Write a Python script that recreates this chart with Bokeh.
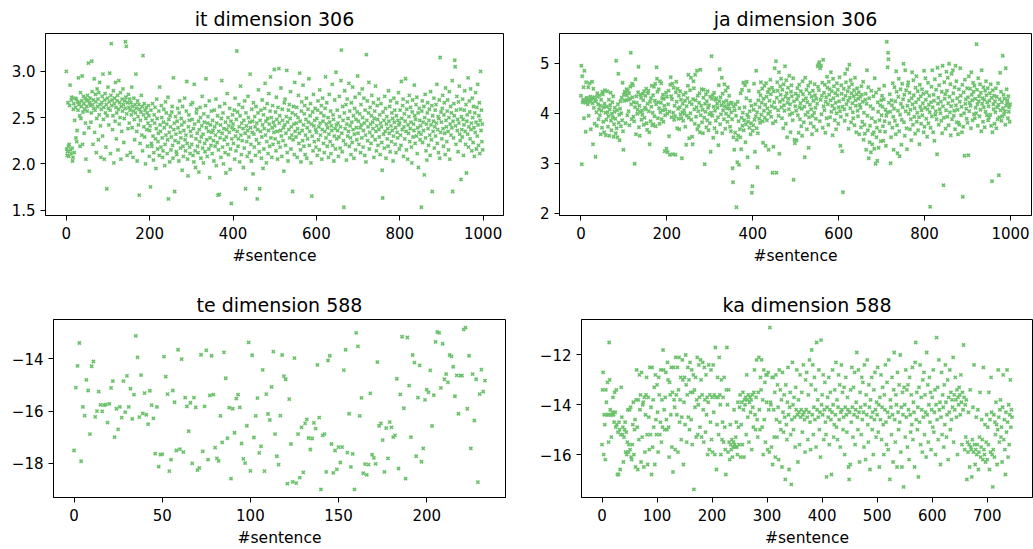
from bokeh.plotting import figure
from bokeh.layouts import column, row
from bokeh.models import Range1d, FixedTicker, CustomJSTickFormatter
from bokeh.embed import file_html
from bokeh.resources import INLINE

# ---------------- data (values read/estimated from the reference) ----------------
it_values = [
3.00,2.16,2.09,2.13,2.66,2.19,2.08,2.21,2.63,2.85,2.15,2.11,2.69,2.72,2.17,2.03,2.07,2.59,2.65,2.12,2.47,2.71,2.61,2.28,2.70,2.24,2.36,2.67,2.58,2.93,2.64,2.66,2.52,2.19,2.77,2.49,2.62,2.68,2.95,2.21,2.56,2.73,2.65,2.33,2.59,2.71,2.44,2.05,2.69,2.62,
2.57,2.74,2.68,3.09,2.39,1.92,2.66,2.71,2.63,2.45,2.55,3.11,2.78,2.64,2.21,2.69,2.60,2.92,2.34,2.58,2.75,2.67,2.12,2.49,2.81,2.62,2.70,2.26,2.77,2.53,2.88,2.64,2.41,2.07,2.59,2.66,2.73,2.30,2.97,2.48,2.61,2.05,2.69,2.76,2.55,2.18,2.64,1.73,2.52,2.71,
2.83,2.60,2.42,2.67,2.98,2.58,2.11,2.74,3.30,2.63,2.69,2.37,2.52,2.79,2.01,2.65,2.71,2.46,2.88,2.61,2.27,2.55,2.68,2.74,2.15,2.59,2.90,2.43,2.66,2.50,2.77,2.05,2.62,2.35,2.70,2.57,2.81,2.64,2.23,2.49,2.68,2.60,3.32,2.72,3.27,2.54,2.09,2.66,2.38,2.75,
2.61,2.44,2.70,2.58,2.12,2.66,2.53,2.83,2.39,2.62,2.07,2.57,2.71,2.48,2.26,2.64,2.55,2.97,2.60,2.35,2.03,2.68,2.51,2.42,2.64,1.66,2.59,2.22,2.47,2.56,2.74,2.31,2.62,2.14,3.17,2.53,2.40,2.65,2.29,2.58,2.00,2.49,2.61,2.37,2.55,2.19,2.44,2.63,2.52,2.08,
2.36,2.41,1.75,2.58,2.22,2.19,2.47,2.65,2.30,2.04,2.12,2.53,2.44,2.61,2.27,1.95,2.38,2.70,2.49,2.16,2.24,2.33,2.57,2.09,2.83,2.42,2.35,2.18,2.63,2.50,2.28,2.07,2.14,2.45,2.59,2.39,1.98,2.21,2.67,2.31,2.55,2.43,2.11,2.26,2.72,1.62,2.48,2.34,2.02,2.52,
2.40,2.15,2.29,2.56,2.62,2.20,2.06,2.93,2.37,2.44,1.70,2.25,2.51,2.32,2.13,2.10,2.46,2.60,2.39,2.23,2.03,2.55,2.68,2.34,2.17,2.28,2.49,2.42,1.93,2.62,2.19,2.08,2.36,2.45,2.71,2.26,2.14,2.31,2.57,2.89,2.22,2.05,1.87,2.40,2.53,2.47,2.18,2.11,2.35,2.64,
2.30,2.21,2.48,2.66,2.09,2.38,2.02,2.86,2.43,2.14,1.96,2.27,2.55,2.59,2.33,2.19,2.12,2.46,1.91,2.37,2.24,2.61,2.50,2.06,2.29,2.41,2.73,2.17,2.32,2.01,2.54,2.45,2.22,2.13,2.63,2.92,2.39,2.26,2.08,2.44,2.51,2.35,2.16,2.68,1.85,2.28,2.42,2.20,2.57,2.34,
2.11,2.47,2.36,2.25,2.03,2.58,2.40,2.19,2.31,2.70,1.98,2.44,2.23,2.52,1.66,2.15,2.35,1.67,2.62,2.28,2.42,2.07,2.49,2.90,2.33,2.18,2.55,2.00,2.38,2.26,2.65,2.12,2.45,1.90,2.29,2.37,2.76,2.21,2.50,2.10,2.41,2.34,2.60,1.94,2.16,2.46,1.57,2.27,2.39,2.53,
2.43,2.22,2.37,2.58,2.05,2.71,2.30,2.14,2.48,3.22,2.35,2.56,2.19,2.27,2.64,2.40,2.02,2.52,2.84,2.31,2.10,2.44,2.25,2.61,2.38,1.96,2.47,2.17,2.68,2.33,1.73,2.55,2.41,2.24,2.08,2.36,2.73,2.50,2.29,2.12,2.45,2.97,2.39,2.21,2.03,2.59,2.34,2.46,1.89,2.66,
2.32,2.18,2.51,2.40,2.09,2.62,2.26,2.44,1.62,2.37,2.55,2.80,2.22,2.13,1.73,2.47,2.35,2.58,2.06,2.29,2.69,2.42,1.95,2.53,2.16,2.38,2.60,2.87,2.31,2.46,2.01,2.24,2.65,2.49,2.11,2.36,2.76,2.43,2.19,2.57,2.94,2.28,2.50,2.07,2.39,2.63,2.21,2.45,2.34,3.02,
2.41,2.27,2.56,2.14,2.72,2.48,2.35,2.05,2.61,2.23,3.03,2.44,2.52,2.18,2.36,2.82,2.30,2.08,2.59,2.47,2.25,2.39,1.92,2.66,2.42,2.70,2.20,2.33,2.51,3.01,2.12,2.45,2.03,2.58,2.37,2.64,2.28,2.49,2.78,2.16,2.40,2.31,2.55,1.70,2.26,2.62,2.43,2.10,2.88,2.35,
2.53,2.29,2.44,2.61,2.07,2.38,2.50,2.74,2.22,2.33,2.98,2.46,2.15,2.02,2.57,2.67,2.36,2.25,2.85,2.42,2.19,2.54,2.63,2.10,2.31,2.48,2.71,2.06,2.39,2.27,2.59,2.45,2.92,2.20,2.35,2.52,2.65,2.01,2.43,1.65,2.30,2.56,2.14,2.75,2.41,2.24,2.47,2.60,2.37,2.18,
2.34,2.49,2.09,2.58,2.68,2.26,2.40,2.15,2.80,2.44,2.31,2.55,2.63,2.05,2.37,2.71,2.46,2.22,2.52,2.12,2.35,2.60,2.94,2.28,2.43,2.66,2.19,2.39,2.50,2.07,2.32,2.75,2.45,2.24,2.57,2.11,2.41,2.36,2.86,2.20,2.53,2.48,2.03,2.30,2.69,2.38,2.16,2.99,2.42,2.27,
2.58,2.36,2.44,2.08,2.29,2.73,2.51,2.17,2.40,2.90,3.23,2.33,2.13,2.62,2.47,2.25,1.53,2.55,2.79,2.38,2.21,2.64,2.04,2.43,2.70,2.30,2.49,2.35,2.87,2.19,2.57,2.41,2.28,2.10,2.66,2.45,2.23,2.83,2.37,2.52,2.06,2.32,2.60,2.72,2.15,2.48,2.39,2.26,2.56,2.95,
2.33,2.46,2.21,2.76,2.54,2.39,2.12,2.64,2.42,2.28,2.81,2.50,2.18,2.36,2.71,2.44,2.09,2.58,2.31,2.02,3.18,2.47,2.68,2.25,2.40,2.55,2.88,2.16,2.34,2.61,2.43,2.22,2.52,2.74,2.30,2.45,2.38,2.66,2.07,2.49,2.57,2.26,2.84,2.35,2.14,2.41,2.63,2.48,2.20,2.70,
2.37,2.29,2.53,2.10,2.44,2.65,2.40,2.23,1.93,1.63,2.56,2.32,2.47,2.17,2.73,2.35,2.60,2.06,2.43,2.51,2.27,2.38,2.19,2.79,2.46,2.33,2.62,2.13,2.68,2.41,2.24,2.55,2.36,2.49,2.03,2.30,2.71,2.45,2.58,2.21,2.39,2.12,2.52,2.66,2.34,2.28,2.47,2.77,2.42,2.16,
2.44,2.58,2.31,2.20,2.89,2.49,2.37,2.63,2.70,2.08,2.40,2.54,2.27,2.46,2.92,2.35,2.15,2.59,2.67,2.05,2.42,2.33,2.51,2.74,2.24,2.38,2.61,2.45,2.18,2.01,2.56,2.69,2.29,2.43,2.36,2.85,2.52,2.22,2.48,2.64,2.30,2.72,2.11,2.39,2.55,1.96,2.34,2.60,2.47,2.26,
2.41,2.32,1.53,2.57,2.68,2.23,2.45,2.36,2.62,1.88,2.50,2.75,2.28,2.14,2.43,2.04,2.55,2.66,2.38,2.20,2.47,2.59,2.31,2.09,2.78,2.42,2.26,2.63,1.70,2.52,2.35,2.46,2.71,2.17,2.40,2.58,2.30,2.64,2.44,2.86,2.22,2.37,2.51,2.12,2.49,2.69,2.06,3.15,2.34,2.56,
2.45,2.27,2.60,2.74,2.38,2.19,2.53,2.66,2.33,2.10,2.82,2.47,2.40,2.24,2.57,2.69,2.35,2.15,2.50,2.78,2.05,2.43,2.62,2.31,2.55,2.39,2.90,1.70,2.46,2.28,2.65,2.52,3.12,3.05,2.41,2.21,2.58,2.73,2.36,2.48,2.13,2.67,2.44,2.84,2.32,2.25,2.59,1.83,2.51,2.37,
2.29,2.70,2.48,2.09,2.42,2.58,2.79,2.35,2.21,2.64,1.90,2.46,2.53,2.32,2.93,2.18,2.40,2.68,2.56,2.27,2.81,2.37,2.44,2.14,2.71,2.50,2.23,2.62,2.39,2.08,2.55,2.34,2.77,2.45,2.16,2.61,2.30,2.86,2.42,2.20,2.52,2.66,2.11,2.47,3.00,2.36,2.58,2.24,2.43,2.15,
]

ja_values = [
4.35,4.95,2.98,4.74,4.22,4.27,4.52,3.90,4.85,4.25,4.21,3.63,4.62,4.29,4.31,4.24,4.18,4.52,3.95,4.26,4.60,4.23,4.33,3.68,4.28,4.30,4.63,4.20,3.38,4.49,4.11,4.32,3.79,4.26,3.13,4.24,4.02,3.75,4.40,4.33,4.18,3.88,4.08,4.36,3.96,4.15,3.58,4.27,4.05,3.71,
4.43,4.38,3.83,4.12,3.62,4.19,4.46,4.01,3.56,3.87,4.13,4.44,4.02,3.73,3.94,4.27,3.55,4.08,4.16,4.41,3.85,3.66,3.99,4.22,3.92,4.34,3.53,3.78,4.03,4.11,3.89,3.60,5.05,3.70,4.06,3.52,4.18,4.79,3.81,3.97,3.46,4.09,4.24,3.74,4.00,4.31,3.86,4.61,3.64,3.27,
4.37,4.25,4.43,4.41,3.80,4.26,4.48,4.36,3.96,4.45,4.27,4.04,4.40,3.76,4.29,4.53,5.21,4.18,3.88,4.59,4.32,4.56,3.93,4.22,3.84,2.99,4.12,4.68,3.58,4.34,4.21,3.99,4.07,4.42,4.93,3.72,4.15,3.55,4.37,4.02,4.31,3.87,4.05,3.97,4.39,4.26,3.77,4.44,3.91,4.11,
4.35,4.08,4.49,3.80,3.67,4.19,4.40,4.45,4.04,3.62,3.38,4.23,3.84,4.30,4.13,4.55,3.76,4.01,4.36,3.78,4.53,3.94,4.25,4.59,3.74,4.18,4.92,4.69,4.43,3.90,4.22,4.48,4.10,3.79,4.64,4.02,4.21,4.60,3.88,4.30,4.06,4.37,3.83,4.29,4.15,3.24,3.96,4.07,4.41,3.29,
4.33,3.99,3.22,4.18,4.45,3.54,4.03,3.17,4.57,4.72,4.34,3.92,4.28,4.59,3.18,4.01,4.51,3.87,4.15,3.94,3.17,4.42,4.63,4.23,3.70,4.49,4.09,3.89,4.35,3.68,4.12,4.44,3.98,4.27,3.90,3.10,4.02,4.19,3.85,4.37,4.06,3.99,4.25,3.73,4.41,3.37,4.14,3.95,4.30,4.55,
4.77,3.91,3.50,4.22,4.46,4.00,4.71,3.87,4.18,3.53,3.38,4.28,4.64,4.50,4.08,3.79,4.77,4.26,3.93,4.12,4.85,3.68,4.35,4.04,3.75,4.21,4.40,3.62,4.87,3.96,4.15,4.48,3.82,4.07,3.60,4.31,4.47,3.91,2.98,4.19,4.03,4.38,3.72,4.24,3.86,4.44,4.11,3.66,4.16,3.98,
3.80,4.33,3.23,4.01,5.14,4.29,3.95,4.36,3.51,4.13,4.41,3.70,4.05,4.27,3.85,4.30,3.62,4.19,4.11,3.92,3.36,4.56,4.24,4.88,3.78,4.32,3.98,4.16,4.71,3.60,4.39,4.06,4.22,3.88,4.58,4.14,3.69,4.45,3.99,4.25,4.10,3.83,4.52,4.17,3.94,4.35,4.09,3.73,4.20,3.64,
4.02,4.21,3.88,2.90,2.62,3.52,4.14,3.27,4.06,3.61,4.18,3.95,2.12,3.47,3.02,4.23,3.55,3.84,2.97,4.10,3.68,3.52,4.40,3.28,3.91,4.47,3.75,4.01,4.61,3.66,3.86,4.12,4.56,3.42,3.78,4.30,4.63,3.97,3.12,3.83,3.92,4.45,3.71,4.04,4.25,3.58,3.80,4.15,2.41,2.54,
3.65,3.76,4.07,4.59,3.87,3.23,4.18,3.94,4.85,3.70,4.02,2.92,3.60,4.26,4.43,3.89,4.12,3.81,4.36,4.62,3.97,4.21,4.49,3.84,3.41,4.29,4.05,4.55,3.91,4.17,3.35,4.60,4.33,3.86,4.10,4.42,3.99,3.27,4.48,4.25,4.03,4.67,4.38,3.93,4.14,4.51,2.81,3.80,3.33,4.44,
4.22,4.90,4.11,3.84,5.04,2.81,4.31,4.62,4.45,4.06,3.95,4.82,3.19,4.23,4.54,4.37,4.69,4.12,3.90,4.47,4.27,3.70,4.58,4.16,4.05,4.94,4.33,3.79,4.66,4.40,3.52,4.21,4.51,4.29,4.08,4.75,3.97,4.18,3.62,4.43,4.56,4.34,4.00,3.86,4.70,2.67,4.24,3.47,3.40,4.14,
4.39,4.05,3.46,4.28,4.50,3.96,4.35,3.61,4.57,4.12,3.88,4.20,4.44,3.74,4.09,3.55,4.64,4.38,4.26,3.82,4.13,3.12,4.71,3.97,4.30,4.47,3.68,4.22,4.02,4.55,3.31,3.92,4.40,4.17,4.62,3.80,4.08,4.33,3.58,3.95,4.45,4.25,3.73,4.01,4.58,4.36,4.11,3.89,4.29,3.66,
4.19,4.94,4.53,4.98,4.46,5.02,3.84,4.90,4.27,4.95,3.98,4.35,4.61,3.71,5.07,4.14,4.41,4.06,4.57,3.61,4.23,4.32,3.90,4.73,4.51,4.18,3.77,4.63,4.37,4.48,3.92,4.26,4.82,4.03,4.44,4.15,3.56,4.69,4.30,4.54,4.09,3.86,4.40,4.21,3.68,4.00,4.60,4.36,4.47,3.79,
4.12,4.24,4.72,4.04,3.35,3.93,4.56,4.39,3.24,4.13,2.42,4.28,4.49,4.08,3.85,4.79,4.35,4.62,4.18,3.97,4.88,4.44,4.25,3.69,4.52,4.97,4.31,4.10,4.66,3.82,4.40,4.58,4.20,4.02,3.90,4.34,4.46,3.76,4.71,4.26,4.15,3.62,4.38,4.50,4.05,3.94,4.29,4.42,3.58,4.17,
4.33,4.11,3.72,4.54,4.37,3.83,4.23,4.63,3.47,4.01,3.77,3.59,4.27,4.39,3.27,4.19,4.86,3.95,3.66,4.52,3.10,4.30,3.42,3.75,4.14,3.22,4.45,3.90,3.38,3.58,4.09,4.34,3.62,3.29,4.70,3.83,2.99,4.41,3.52,3.71,3.05,4.22,4.03,3.31,4.48,3.86,3.64,4.16,3.44,4.26,
3.96,4.35,4.13,3.74,3.45,4.28,4.55,3.84,3.63,4.07,3.35,3.95,5.43,4.02,4.92,5.21,5.08,4.21,3.80,4.38,4.03,3.00,3.52,4.26,4.16,3.71,4.60,3.93,3.27,4.09,4.52,3.85,4.24,3.58,4.84,4.43,3.76,3.20,4.05,4.33,4.69,3.64,3.14,3.97,4.48,4.19,3.37,3.87,4.59,4.12,
4.28,4.99,3.82,4.37,3.55,4.86,4.04,4.46,3.70,3.28,4.15,4.55,4.62,3.99,4.25,4.41,3.68,4.07,3.88,3.46,4.30,4.82,4.18,3.77,4.66,4.36,3.93,4.10,3.59,4.51,4.22,4.74,3.83,4.01,4.44,3.66,4.28,3.92,3.38,4.57,4.13,4.34,3.79,4.06,4.48,3.96,4.20,4.39,3.62,4.85,
3.73,4.11,4.70,4.27,3.89,4.42,3.53,4.08,4.61,3.80,4.17,4.35,4.02,2.13,3.71,4.22,4.53,3.94,4.86,4.12,3.62,4.37,4.25,3.45,4.68,3.97,4.04,4.47,3.88,3.18,4.91,4.19,4.31,3.77,4.56,4.08,4.76,4.00,4.23,3.85,4.43,3.60,4.95,4.14,2.56,3.91,4.62,4.29,4.38,3.69,
4.06,4.83,4.45,3.93,4.71,4.20,3.76,4.99,4.33,4.02,4.58,3.56,4.14,4.79,3.88,4.25,4.86,4.40,3.95,4.05,4.52,3.68,4.95,4.16,4.64,3.82,4.30,4.07,3.58,3.81,4.48,3.77,4.23,4.90,4.35,3.96,4.13,3.62,4.57,2.33,3.73,4.42,4.00,3.15,4.67,4.19,4.28,4.09,3.89,4.50,
3.81,4.32,3.16,4.74,4.04,4.21,4.49,4.15,3.70,4.82,4.37,4.26,3.86,4.61,4.43,3.98,4.55,3.90,4.29,4.11,4.00,5.38,4.47,4.18,3.75,4.70,4.24,4.34,3.94,4.58,4.07,4.41,3.64,4.86,4.19,4.30,3.83,4.52,4.12,4.27,3.72,4.45,4.03,4.64,4.36,3.96,4.22,4.50,3.86,4.14,
3.92,4.25,4.40,3.97,4.58,3.75,4.31,2.64,3.62,4.46,4.18,4.08,4.35,3.79,4.24,4.02,4.50,3.70,4.33,4.12,3.88,4.60,4.17,2.76,3.92,4.28,4.81,4.06,4.43,3.85,4.22,3.94,5.15,4.10,4.37,3.98,4.29,4.04,3.77,4.90,4.15,4.48,4.20,4.26,3.90,4.34,4.03,4.12,3.83,4.18,
]

te_values = [
-17.51,-15.10,-14.27,-13.39,-17.92,-15.84,-16.17,-14.80,-15.21,-16.88,-14.28,-14.10,-16.22,-16.00,-15.25,-15.76,-16.01,-15.77,-15.75,-16.44,
-15.72,-15.11,-14.85,-17.00,-15.91,-16.70,-15.84,-16.25,-14.85,-16.04,-14.65,-15.84,-15.14,-16.30,-15.37,-13.12,-13.94,-16.23,-14.62,-16.09,
-15.31,-16.14,-16.50,-15.22,-15.77,-16.28,-17.63,-15.84,-18.13,-17.67,-17.65,-13.91,-14.68,-15.35,-18.30,-17.86,-15.21,-15.66,-17.51,-13.65,
-17.46,-14.01,-17.57,-15.48,-15.82,-16.77,-15.68,-18.00,-15.48,-15.86,-18.26,-18.18,-13.84,-17.54,-15.82,-13.67,-17.86,-15.40,-13.88,-15.37,
-17.40,-17.81,-17.91,-16.18,-17.20,-13.75,-14.74,-17.04,-15.87,-18.59,-15.91,-16.83,-15.52,-15.37,-15.86,-17.24,-17.83,-17.99,-16.56,-13.37,
-18.29,-13.86,-17.01,-16.18,-15.50,-17.60,-17.35,-14.42,-18.30,-15.35,-16.11,-16.34,-15.07,-13.72,-16.88,-17.73,-18.05,-16.17,-13.85,-14.66,
-14.78,-18.78,-15.54,-17.26,-18.71,-13.97,-18.76,-16.88,-18.55,-16.62,-18.35,-16.47,-16.32,-17.03,-17.47,-17.05,-16.45,-16.67,-14.23,-16.25,
-19.00,-16.93,-16.88,-18.33,-14.06,-13.88,-17.26,-18.37,-17.51,-18.23,-17.38,-17.97,-17.38,-14.43,-13.65,-17.59,-16.10,-18.14,-17.64,-19.00,
-13.00,-13.52,-16.18,-15.49,-18.38,-18.03,-18.44,-18.05,-15.32,-17.67,-17.79,-18.02,-14.12,-16.56,-16.47,-17.11,-18.33,-16.65,-17.81,-16.42,
-16.62,-17.00,-16.93,-14.76,-18.20,-15.36,-13.15,-15.89,-18.59,-13.18,-15.02,-17.00,-13.85,-14.14,-17.73,-15.48,-14.25,-17.94,-17.43,-15.57,
-15.18,-15.28,-14.44,-16.57,-15.39,-13.35,-12.97,-13.00,-15.11,-13.42,-14.78,-14.58,-14.90,-13.85,-13.90,-14.30,-15.43,-14.63,-16.10,-14.64,
-14.64,-12.87,-12.80,-15.91,-13.88,-17.43,-14.58,-16.36,-14.78,-18.72,-15.35,-14.41,-15.25,-14.83,
]

ka_values = [
-15.6,-13.4,-12.7,-16.0,-14.4,-14.8,-16.2,-13.4,-13.9,-14.4,-13.1,-14.4,-15.5,-11.5,-13.0,-14.2,-14.4,-15.3,-14.4,-14.3,-13.7,-14.4,-14.7,-13.5,-14.3,-14.9,-13.4,-14.8,-16.8,-15.1,-16.8,-14.7,-15.0,-16.6,-15.2,-13.3,-14.5,-15.2,-14.9,-16.3,-15.3,-15.0,-14.7,-15.9,-15.1,-16.0,-15.5,-14.2,-15.9,-15.6,
-14.2,-15.8,-14.1,-16.1,-16.2,-15.6,-14.8,-13.9,-16.0,-15.0,-14.6,-16.5,-13.8,-12.6,-14.9,-16.6,-13.8,-15.4,-12.8,-14.2,-13.6,-16.3,-12.7,-15.3,-14.0,-13.9,-16.5,-13.7,-15.9,-14.4,-13.6,-12.9,-15.2,-16.4,-13.7,-14.5,-15.8,-12.5,-15.2,-14.1,-16.8,-12.5,-15.7,-13.8,-14.9,-13.3,-16.4,-12.8,-14.6,-15.2,
-13.2,-14.3,-15.9,-12.9,-13.6,-15.2,-14.7,-12.6,-15.5,-13.8,-14.9,-11.8,-12.6,-14.2,-15.0,-13.7,-12.7,-14.6,-15.0,-12.3,-13.0,-14.9,-16.1,-13.1,-13.6,-14.4,-12.5,-15.7,-13.5,-16.7,-12.5,-13.8,-14.1,-15.8,-12.1,-13.6,-14.4,-12.5,-15.9,-13.4,-12.1,-14.7,-13.8,-12.9,-15.4,-14.5,-12.2,-13.0,-16.4,-13.9,
-12.9,-14.8,-12.0,-13.2,-15.5,-13.6,-12.5,-14.5,-13.0,-15.0,-12.3,-13.5,-14.6,-12.6,-15.6,-13.5,-12.8,-17.4,-13.4,-14.1,-12.9,-15.3,-13.8,-12.1,-15.2,-14.0,-12.4,-13.7,-14.9,-12.2,-13.0,-15.3,-13.6,-12.3,-14.2,-15.5,-12.5,-13.8,-15.1,-12.8,-14.4,-13.7,-16.0,-13.9,-12.4,-15.8,-13.6,-14.7,-12.6,-15.4,
-13.7,-15.9,-12.4,-14.3,-13.6,-16.0,-11.7,-13.7,-16.6,-14.8,-12.9,-13.7,-15.2,-12.1,-13.6,-14.0,-16.0,-13.0,-15.4,-14.7,-13.7,-15.5,-12.9,-14.9,-15.8,-16.8,-13.4,-11.7,-14.0,-15.9,-13.4,-15.5,-16.2,-14.8,-15.6,-15.8,-15.4,-16.1,-15.7,-15.5,-14.2,-15.6,-15.7,-15.3,-14.7,-15.7,-16.0,-13.9,-14.9,-15.6,
-14.1,-13.6,-16.1,-14.8,-13.9,-15.6,-13.5,-14.2,-16.1,-13.8,-14.0,-13.7,-15.2,-12.8,-13.8,-14.5,-13.6,-15.5,-13.9,-13.7,-14.3,-13.8,-15.8,-13.6,-14.1,-14.9,-13.5,-12.6,-14.4,-15.0,-13.7,-12.2,-14.6,-15.3,-13.5,-12.1,-14.2,-15.0,-12.9,-13.4,-12.2,-14.9,-13.8,-16.0,-12.6,-14.6,-13.1,-15.5,-12.8,-13.9,
-12.8,-15.8,-12.7,-14.2,-15.9,-10.9,-13.9,-14.0,-15.7,-12.9,-16.4,-12.9,-14.2,-15.3,-13.5,-16.1,-12.8,-14.6,-15.3,-13.2,-14.1,-16.2,-12.6,-14.7,-13.4,-15.0,-13.8,-16.5,-12.7,-14.3,-15.1,-13.6,-14.5,-17.0,-13.2,-14.8,-15.4,-13.9,-12.5,-14.4,-16.6,-14.1,-13.5,-15.2,-17.2,-14.6,-12.3,-14.0,-15.0,-13.7,
-14.5,-15.7,-13.3,-14.2,-12.6,-14.4,-16.3,-13.8,-14.3,-15.6,-12.8,-14.5,-14.2,-13.5,-15.1,-14.4,-12.4,-14.3,-14.6,-15.9,-13.0,-14.2,-12.7,-14.5,-15.4,-13.6,-14.3,-12.2,-14.7,-15.8,-13.2,-11.8,-14.4,-12.4,-15.2,-14.1,-12.9,-14.6,-13.4,-15.7,-11.5,-14.2,-13.8,-14.5,-12.6,-15.0,-14.3,-16.1,-11.4,-14.0,
-13.6,-14.4,-12.8,-15.4,-14.2,-13.1,-14.7,-15.2,-16.9,-14.1,-13.7,-14.5,-12.9,-15.6,-14.2,-13.5,-14.6,-16.8,-14.3,-12.6,-14.0,-15.3,-14.8,-13.4,-14.4,-12.3,-14.9,-13.8,-15.4,-14.1,-12.8,-14.6,-13.2,-15.7,-14.3,-12.4,-14.2,-13.5,-15.0,-14.5,-13.3,-16.0,-14.1,-12.9,-14.4,-15.1,-13.7,-14.2,-16.5,-17.0,
-14.3,-16.4,-13.4,-14.7,-12.5,-14.1,-15.3,-13.3,-14.4,-12.7,-15.6,-14.2,-13.9,-11.9,-14.5,-15.0,-12.6,-14.3,-16.3,-13.5,-14.1,-15.2,-12.9,-14.6,-13.1,-14.3,-15.7,-12.4,-14.0,-16.2,-13.6,-14.4,-12.2,-14.8,-15.5,-13.2,-14.1,-16.6,-13.8,-14.5,-12.9,-15.0,-14.3,-16.0,-13.4,-14.6,-12.7,-14.2,-15.3,-13.9,
-14.4,-12.5,-15.1,-14.0,-16.5,-13.7,-14.6,-12.8,-15.4,-14.1,-13.3,-14.8,-16.0,-13.6,-14.2,-12.4,-14.7,-15.6,-13.1,-14.3,-15.8,-12.2,-14.5,-17.0,-13.8,-14.1,-15.2,-12.9,-14.4,-16.3,-13.4,-11.9,-14.6,-15.5,-13.6,-14.0,-16.5,-12.7,-14.3,-15.0,-13.2,-14.7,-12.0,-15.9,-14.1,-16.5,-13.5,-14.4,-17.3,-13.3,
-14.0,-15.3,-12.6,-14.5,-13.4,-15.7,-13.2,-14.2,-16.2,-12.9,-14.4,-15.1,-13.6,-14.8,-12.5,-15.4,-13.9,-14.3,-16.5,-12.3,-11.5,-14.6,-13.5,-15.0,-14.1,-16.9,-13.3,-14.7,-12.4,-15.6,-13.7,-14.2,-15.9,-13.0,-14.5,-12.7,-15.2,-13.6,-14.3,-16.1,-11.9,-14.4,-13.2,-15.5,-14.0,-12.9,-14.7,-13.5,-15.8,-14.2,
-13.7,-14.9,-12.6,-15.1,-14.3,-13.4,-16.0,-14.0,-11.3,-14.6,-13.3,-15.4,-12.2,-14.2,-13.9,-16.4,-14.5,-12.7,-15.2,-13.6,-14.1,-15.7,-13.2,-14.8,-12.4,-13.9,-15.3,-14.4,-13.0,-16.2,-13.7,-14.3,-12.6,-15.0,-13.5,-14.6,-13.8,-14.1,-12.1,-15.5,-13.6,-14.2,-12.9,-13.8,-14.5,-13.4,-16.0,-13.7,-14.0,-13.3,
-13.6,-14.4,-12.8,-13.9,-15.6,-13.5,-14.2,-11.6,-13.7,-15.8,-14.0,-15.3,-13.8,-17.0,-15.5,-15.9,-14.3,-15.6,-16.5,-13.4,-15.7,-15.8,-16.9,-15.4,-14.1,-15.9,-12.4,-15.6,-16.4,-15.8,-14.5,-16.0,-15.6,-14.2,-16.6,-15.9,-15.3,-13.5,-16.1,-15.7,-14.6,-15.4,-16.2,-12.5,-15.8,-16.0,-14.8,-16.3,-15.5,-14.4,
-16.2,-14.9,-15.6,-13.5,-16.6,-14.6,-15.9,-12.9,-14.3,-16.0,-17.3,-15.8,-14.4,-16.1,-14.7,-15.2,-13.9,-14.8,-16.4,-15.0,-12.6,-14.5,-15.5,-14.2,-13.8,-15.3,-14.9,-16.3,-14.1,-12.8,-15.4,-14.6,-15.8,-16.8,-14.3,-15.1,-12.6,-14.7,-16.1,-14.0,-15.6,-14.4,-13.0,-14.9,-14.2,-14.5,
]

titles = ["it dimension 306", "ja dimension 306", "te dimension 588", "ka dimension 588"]
x_label = "#sentence"
it_xticks = [0, 200, 400, 600, 800, 1000]
it_yticks = [1.5, 2.0, 2.5, 3.0]
ja_xticks = [0, 200, 400, 600, 800, 1000]
ja_yticks = [2, 3, 4, 5]
te_xticks = [0, 50, 100, 150, 200]
te_yticks = [-18, -16, -14]
ka_xticks = [0, 100, 200, 300, 400, 500, 600, 700]
ka_yticks = [-16, -14, -12]

# ---------------- styling ----------------
GREEN = "#6cc26c"
FONT = "DejaVu Sans"


def fmt(dec):
    return CustomJSTickFormatter(code="""
        const s = Math.abs(tick).toFixed(%d);
        return (tick < 0 ? '\u2212' : '') + s;
    """ % dec)


def make(title, values, xticks, yticks, ydec, width, height, bl, br, bt, bb):
    n = len(values)
    xs = list(range(n))
    lo, hi = min(values), max(values)
    pad = 0.05 * (hi - lo)
    xpad = 0.05 * (n - 1)
    p = figure(width=width, height=height, output_backend="svg", toolbar_location=None,
               x_range=Range1d(-xpad, (n - 1) + xpad), y_range=Range1d(lo - pad, hi + pad),
               min_border_left=bl, min_border_right=br, min_border_top=bt, min_border_bottom=bb,
               background_fill_color="white", border_fill_color="white")
    p.scatter(xs, values, marker="x", size=4.5, line_width=1.6, color=GREEN)

    p.title.text = title
    p.title.align = "center"
    p.title.text_font = FONT
    p.title.text_font_size = "19px"
    p.title.text_font_style = "normal"
    p.title.text_color = "black"
    p.title.standoff = 7

    p.xgrid.visible = False
    p.ygrid.visible = False
    p.outline_line_color = "black"
    p.outline_line_width = 1
    p.outline_line_alpha = 1

    p.xaxis.ticker = FixedTicker(ticks=xticks)
    p.yaxis.ticker = FixedTicker(ticks=yticks)
    p.xaxis.formatter = fmt(0)
    p.yaxis.formatter = fmt(ydec)
    p.xaxis.axis_label = x_label
    for ax in (p.xaxis[0], p.yaxis[0]):
        ax.axis_line_color = "black"
        ax.axis_line_width = 1
        ax.major_tick_line_color = "black"
        ax.major_tick_line_width = 1
        ax.major_tick_out = 5
        ax.major_tick_in = 0
        ax.minor_tick_line_color = None
        ax.major_label_text_font = FONT
        ax.major_label_text_font_size = "15px"
        ax.major_label_text_color = "black"
        ax.axis_label_text_font = FONT
        ax.axis_label_text_font_size = "15.5px"
        ax.axis_label_text_font_style = "normal"
        ax.axis_label_text_color = "black"
    p.xaxis[0].major_label_standoff = 6
    p.xaxis[0].axis_label_standoff = 5
    p.yaxis[0].major_label_standoff = 5
    return p


p_it = make(titles[0], it_values, it_xticks, it_yticks, 1, 516, 270, 45, 13, 33, 55)
p_ja = make(titles[1], ja_values, ja_xticks, ja_yticks, 0, 517, 270, 43, 2, 31, 52)
p_te = make(titles[2], te_values, te_xticks, te_yticks, 0, 516, 279, 53, 11, 49, 51)
p_ka = make(titles[3], ka_values, ka_xticks, ka_yticks, 0, 517, 279, 65, 1, 49, 51)

layout = column(row(p_it, p_ja, spacing=0), row(p_te, p_ka, spacing=0), spacing=0)

with open("out.html", "w") as f:
    f.write(file_html(layout, INLINE))
